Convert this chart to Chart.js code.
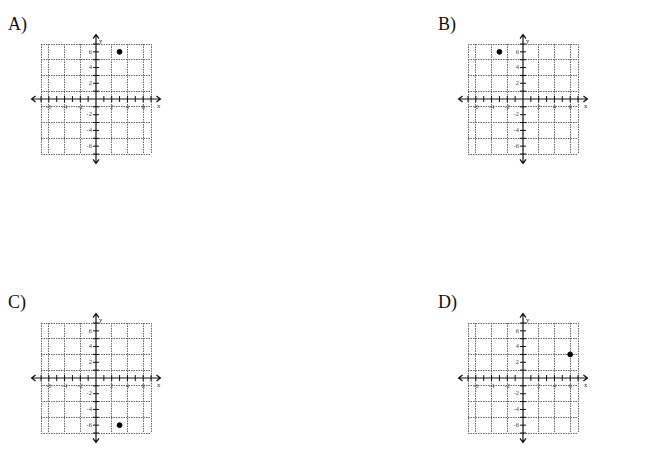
<!DOCTYPE html>
<html>
<head>
<meta charset="utf-8">
<script src="https://cdn.jsdelivr.net/npm/chart.js@4"></script>
<style>
  body { margin: 0; background: #fff; }
  #page { position: relative; width: 650px; height: 458px; overflow: hidden; }
  .lbl { position: absolute; font-family: "Liberation Serif", serif; font-size: 18px; color: #111; }
  canvas { position: absolute; }
</style>
</head>
<body>
<div id="page"></div>
<script>
// answer choices and the plotted point of each
const panelLabels = ['A)', 'B)', 'C)', 'D)'];
const pointX = [3, -3, 3, 6];
const pointY = [6, 6, -6, 3];

// grid and ticks (same for every panel)
const xGridValues = [-7, -6, -4, -2, 2, 4, 6, 7];
const yGridValues = [-7, -5, -3, -1, 1, 3, 5, 7];
const tickLabels = [-6, -4, -2, 2, 4, 6];
const minorTicks = [-7, -6, -5, -4, -3, -2, -1, 1, 2, 3, 4, 5, 6, 7];
const axisReach = 8.2;

// where each panel sits on the page
const origins = [[96, 99], [523, 99], [96, 378], [523, 378]];
const labelPos = [[8, 14], [438, 14], [8, 292], [438, 292]];

const page = document.getElementById('page');

const axesPlugin = {
  id: 'axes',
  beforeDatasetsDraw(chart){
    const ctx = chart.ctx;
    const xs = chart.scales.x, ys = chart.scales.y;
    const ox = xs.getPixelForValue(0), oy = ys.getPixelForValue(0);
    const x0 = xs.getPixelForValue(-axisReach), x1 = xs.getPixelForValue(axisReach);
    const y0 = ys.getPixelForValue(axisReach), y1 = ys.getPixelForValue(-axisReach);
    ctx.save();
    ctx.strokeStyle = '#111';
    ctx.lineWidth = 1.2;
    ctx.beginPath();
    ctx.moveTo(x0, oy); ctx.lineTo(x1, oy);
    ctx.moveTo(ox, y0); ctx.lineTo(ox, y1);
    // arrow heads
    ctx.moveTo(x0 + 4, oy - 3); ctx.lineTo(x0, oy); ctx.lineTo(x0 + 4, oy + 3);
    ctx.moveTo(x1 - 4, oy - 3); ctx.lineTo(x1, oy); ctx.lineTo(x1 - 4, oy + 3);
    ctx.moveTo(ox - 3, y0 + 4); ctx.lineTo(ox, y0); ctx.lineTo(ox + 3, y0 + 4);
    ctx.moveTo(ox - 3, y1 - 4); ctx.lineTo(ox, y1); ctx.lineTo(ox + 3, y1 - 4);
    ctx.stroke();
    // tick marks
    ctx.lineWidth = 1;
    ctx.beginPath();
    minorTicks.forEach(v => {
      const px = xs.getPixelForValue(v), py = ys.getPixelForValue(v);
      ctx.moveTo(px, oy - 3); ctx.lineTo(px, oy + 3);
      ctx.moveTo(ox - 3, py); ctx.lineTo(ox + 3, py);
    });
    ctx.stroke();
    // tick labels
    ctx.fillStyle = '#445';
    ctx.font = '6.5px "Liberation Serif"';
    ctx.textAlign = 'center';
    ctx.textBaseline = 'middle';
    tickLabels.forEach(v => ctx.fillText(String(v), xs.getPixelForValue(v), oy + 8));
    ctx.textAlign = 'right';
    tickLabels.forEach(v => ctx.fillText(String(v), ox - 4, ys.getPixelForValue(v)));
    ctx.fillStyle = '#333';
    ctx.font = '7px "Liberation Serif"';
    ctx.textAlign = 'center';
    ctx.fillText('x', xs.getPixelForValue(8.0), oy + 7);
    ctx.textAlign = 'left';
    ctx.fillText('y', ox + 3, ys.getPixelForValue(7.3));
    ctx.restore();
  }
};

function gridScale(values){
  return {
    type: 'linear',
    min: -7,
    max: 7,
    afterBuildTicks: s => { s.ticks = values.map(v => ({ value: v })); },
    ticks: { display: false },
    border: { display: false, dash: [1.5, 1] },
    grid: {
      drawTicks: false,
      color: '#666',
      lineWidth: 1
    }
  };
}

function mountPanel(i){
  const lbl = document.createElement('div');
  lbl.className = 'lbl';
  lbl.textContent = panelLabels[i];
  lbl.style.left = labelPos[i][0] + 'px';
  lbl.style.top = labelPos[i][1] + 'px';
  page.appendChild(lbl);

  const cv = document.createElement('canvas');
  cv.width = 160; cv.height = 160;
  cv.style.left = (origins[i][0] - 80) + 'px';
  cv.style.top = (origins[i][1] - 80) + 'px';
  cv.style.width = '160px'; cv.style.height = '160px';
  page.appendChild(cv);

  new Chart(cv, {
    type: 'scatter',
    data: {
      datasets: [{
        data: [{ x: pointX[i], y: pointY[i] }],
        backgroundColor: '#000',
        borderColor: '#000',
        pointRadius: 2.4,
        pointHoverRadius: 2.4
      }]
    },
    options: {
      responsive: false,
      animation: false,
      layout: { padding: 25 },
      plugins: { legend: { display: false }, tooltip: { enabled: false } },
      scales: { x: gridScale(xGridValues), y: gridScale(yGridValues) }
    },
    plugins: [axesPlugin]
  });
}

panelLabels.forEach((_, i) => mountPanel(i));
</script>
</body>
</html>
